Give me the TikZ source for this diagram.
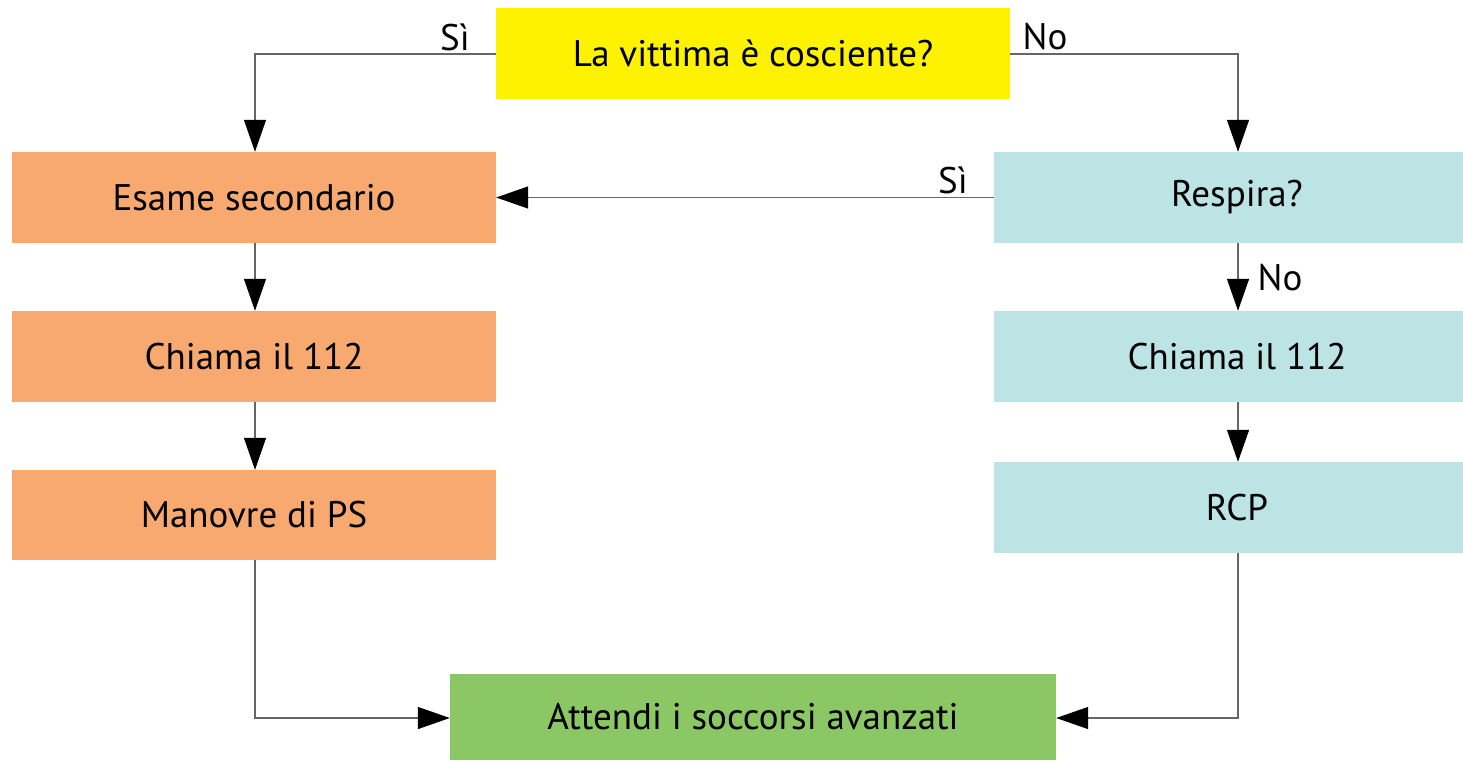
\documentclass[tikz,border=0pt]{standalone}
\usepackage{fontspec}
\setmainfont{PT Sans}
\usetikzlibrary{arrows.meta}
\definecolor{cyel}{HTML}{FFF200}
\definecolor{corg}{HTML}{F8A970}
\definecolor{ccya}{HTML}{BDE4E4}
\definecolor{cgrn}{HTML}{8CC765}
\definecolor{cline}{HTML}{666666}
\tikzset{
  box/.style={draw=none, inner sep=0pt, font=\fontsize{37}{42}\selectfont},
  conn/.style={draw=cline, line width=1.3pt, -{Triangle[length=32pt,width=22pt,fill=black,color=black]}},
  lbl/.style={font=\fontsize{37}{42}\selectfont, inner sep=0pt}
}
\begin{document}
\begin{tikzpicture}[x=1pt,y=-1pt]
\useasboundingbox (0,0) rectangle (1463,761);
\node[box, fill=cyel, minimum width=514pt, minimum height=91pt] (q1) at (753,53.5) {\raisebox{-3pt}{La vittima è cosciente?}};
\node[box, fill=corg, minimum width=484pt, minimum height=91pt] (es) at (254,197.5) {\raisebox{-3pt}{Esame secondario}};
\node[box, fill=corg, minimum width=484pt, minimum height=91pt] (cl) at (254,356.5) {\raisebox{-3pt}{Chiama il 112}};
\node[box, fill=corg, minimum width=484pt, minimum height=90pt] (mp) at (254,515) {\raisebox{-3pt}{Manovre di PS}};
\node[box, fill=ccya, minimum width=486pt, minimum height=91pt] (rs) at (1237,197.5) {\raisebox{-3pt}{Respira?}};
\node[box, fill=ccya, minimum width=486pt, minimum height=91pt] (cr) at (1237,356.5) {\raisebox{-3pt}{Chiama il 112}};
\node[box, fill=ccya, minimum width=486pt, minimum height=91pt] (rcp) at (1237,507.5) {\raisebox{-3pt}{RCP}};
\node[box, fill=cgrn, minimum width=606pt, minimum height=86pt] (at) at (753,717) {\raisebox{-3pt}{Attendi i soccorsi avanzati}};
\coordinate (c1) at (255,54);
\coordinate (c2) at (1238,54);
\coordinate (c3) at (255,718);
\coordinate (c4) at (1238,718);
\draw[conn] (q1.west |- 0,54) -- (c1) -- (c1 |- es.north);
\draw[conn] (q1.east |- 0,54) -- (c2) -- (c2 |- rs.north);
\draw[conn] (rs.west) -- (es.east);
\draw[conn] (es.south -| 255,0) -- (cl.north -| 255,0);
\draw[conn] (cl.south -| 255,0) -- (mp.north -| 255,0);
\draw[conn] (rs.south -| 1238,0) -- (cr.north -| 1238,0);
\draw[conn] (cr.south -| 1238,0) -- (rcp.north -| 1238,0);
\draw[conn] (mp.south -| 255,0) -- (c3) -- (at.west |- c3);
\draw[conn] (rcp.south -| 1238,0) -- (c4) -- (at.east |- c4);
\node[lbl] (l1) at (455,37) {Sì};
\node[lbl] (l2) at (1045,37) {No};
\node[lbl] (l3) at (953,180) {Sì};
\node[lbl] (l4) at (1280,278) {No};
\end{tikzpicture}
\end{document}
